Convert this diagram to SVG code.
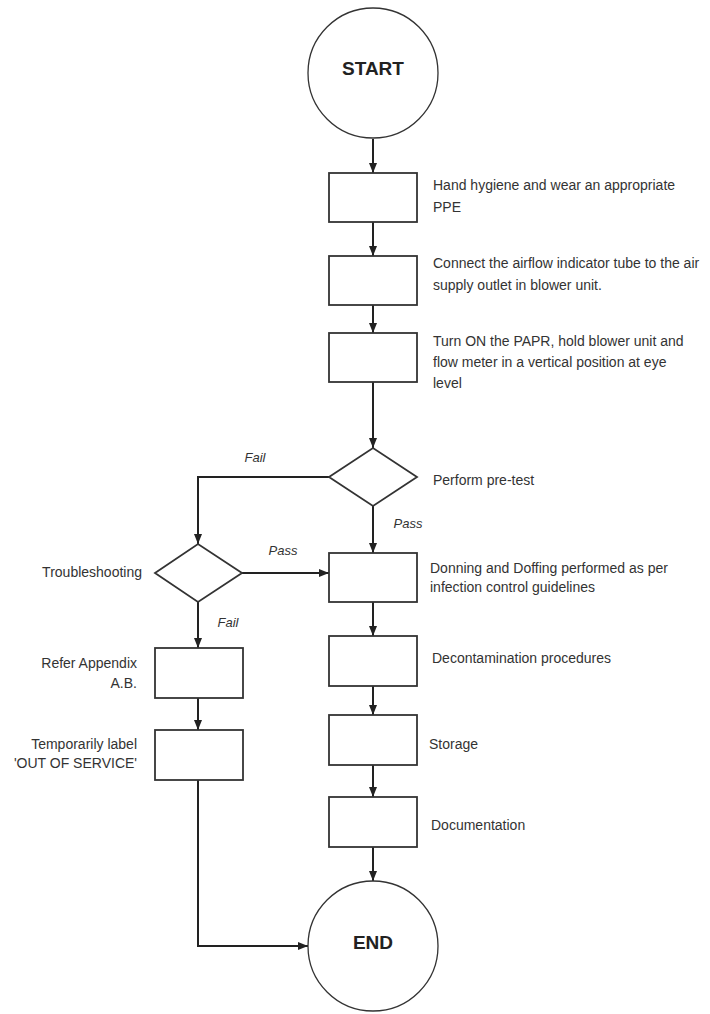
<svg xmlns="http://www.w3.org/2000/svg" width="710" height="1014" viewBox="0 0 710 1014">
<defs>
<marker id="arr" markerUnits="userSpaceOnUse" markerWidth="10" markerHeight="10" viewBox="0 0 10 10" refX="10" refY="5" orient="auto">
<path d="M0,1 L10,5 L0,9 Z" fill="#222"/>
</marker>
<style>
.box{fill:#fff;stroke:#333;stroke-width:1.8}
.term{fill:#fff;stroke:#333;stroke-width:1.3}
.conn{fill:none;stroke:#222;stroke-width:2}
text{font-family:"Liberation Sans",Arial,sans-serif;fill:#333}
.t{font-size:14px}
.lbl{font-size:13px;font-style:italic}
.big{font-size:19px;font-weight:bold;fill:#222;text-anchor:middle}
.e{text-anchor:end}
</style>
</defs>
<rect width="710" height="1014" fill="#fff"/>
<g id="connectors">
<path class="conn" d="M373,139 V173" marker-end="url(#arr)"/>
<path class="conn" d="M373,222 V256" marker-end="url(#arr)"/>
<path class="conn" d="M373,305 V333" marker-end="url(#arr)"/>
<path class="conn" d="M373,382 V448" marker-end="url(#arr)"/>
<path class="conn" d="M373,506 V553" marker-end="url(#arr)"/>
<path class="conn" d="M329,477 H198 V544" marker-end="url(#arr)"/>
<path class="conn" d="M242,573 H329" marker-end="url(#arr)"/>
<path class="conn" d="M198,602 V648" marker-end="url(#arr)"/>
<path class="conn" d="M198,698 V730" marker-end="url(#arr)"/>
<path class="conn" d="M198,780 V946 H308" marker-end="url(#arr)"/>
<path class="conn" d="M373,602 V636" marker-end="url(#arr)"/>
<path class="conn" d="M373,686 V715" marker-end="url(#arr)"/>
<path class="conn" d="M373,765 V797" marker-end="url(#arr)"/>
<path class="conn" d="M373,847 V881" marker-end="url(#arr)"/>
<text class="lbl" x="255" y="462" text-anchor="middle">Fail</text>
<text class="lbl" x="408" y="528" text-anchor="middle">Pass</text>
<text class="lbl" x="283" y="555" text-anchor="middle">Pass</text>
<text class="lbl" x="228" y="627" text-anchor="middle">Fail</text>
</g>
<g id="start">
<circle class="term" cx="373" cy="73" r="65"/>
<text class="big" x="373" y="75">START</text>
</g>
<g id="hand-hygiene">
<rect class="box" x="329" y="173" width="88" height="49"/>
<text class="t" x="433" y="190">Hand hygiene and wear an appropriate</text>
<text class="t" x="433" y="212">PPE</text>
</g>
<g id="connect-tube">
<rect class="box" x="329" y="256" width="88" height="49"/>
<text class="t" x="433" y="268">Connect the airflow indicator tube to the air</text>
<text class="t" x="433" y="290">supply outlet in blower unit.</text>
</g>
<g id="turn-on">
<rect class="box" x="329" y="333" width="88" height="49"/>
<text class="t" x="433" y="346">Turn ON the PAPR, hold blower unit and</text>
<text class="t" x="433" y="367">flow meter in a vertical position at eye</text>
<text class="t" x="433" y="388">level</text>
</g>
<g id="pre-test">
<polygon class="box" points="329,477 373,448 417,477 373,506"/>
<text class="t" x="433" y="485">Perform pre-test</text>
</g>
<g id="troubleshooting">
<polygon class="box" points="155,573 198,544 242,573 198,602"/>
<text class="t e" x="142" y="577">Troubleshooting</text>
</g>
<g id="donning">
<rect class="box" x="329" y="553" width="88" height="49"/>
<text class="t" x="430" y="573">Donning and Doffing performed as per</text>
<text class="t" x="430" y="592">infection control guidelines</text>
</g>
<g id="decontamination">
<rect class="box" x="329" y="636" width="88" height="50"/>
<text class="t" x="432" y="663">Decontamination procedures</text>
</g>
<g id="storage">
<rect class="box" x="329" y="715" width="88" height="50"/>
<text class="t" x="429" y="749">Storage</text>
</g>
<g id="documentation">
<rect class="box" x="329" y="797" width="88" height="50"/>
<text class="t" x="431" y="830">Documentation</text>
</g>
<g id="refer-appendix">
<rect class="box" x="155" y="648" width="88" height="50"/>
<text class="t e" x="137" y="668">Refer Appendix</text>
<text class="t e" x="137" y="688">A.B.</text>
</g>
<g id="out-of-service">
<rect class="box" x="155" y="730" width="88" height="50"/>
<text class="t e" x="137" y="749">Temporarily label</text>
<text class="t e" x="137" y="768">'OUT OF SERVICE'</text>
</g>
<g id="end">
<circle class="term" cx="373" cy="946" r="65"/>
<text class="big" x="373" y="949">END</text>
</g>
</svg>
